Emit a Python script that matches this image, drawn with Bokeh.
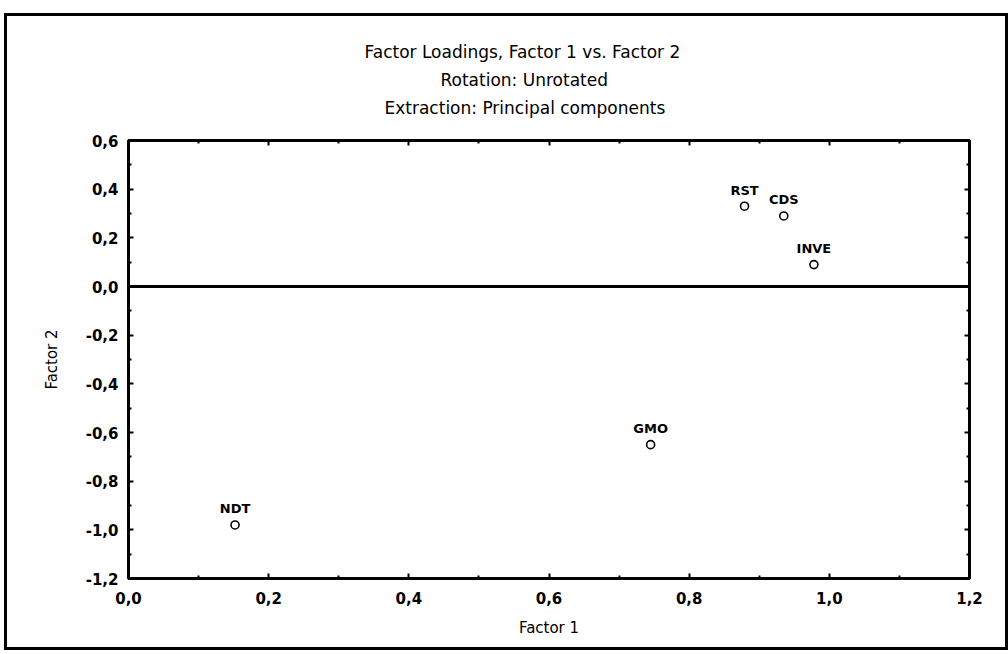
from bokeh.plotting import figure
from bokeh.models import (Range1d, FixedTicker, LinearAxis, Title, ColumnDataSource,
                          Span, LabelSet)
from bokeh.embed import file_html
from bokeh.resources import INLINE
from bokeh.core.properties import value

# ---- data ----
variables = ["RST", "CDS", "INVE", "GMO", "NDT"]
factor1 = [0.879, 0.935, 0.978, 0.745, 0.152]
factor2 = [0.33, 0.29, 0.09, -0.65, -0.98]

x_ticks = [0.0, 0.2, 0.4, 0.6, 0.8, 1.0, 1.2]
x_tick_labels = ["0,0", "0,2", "0,4", "0,6", "0,8", "1,0", "1,2"]
y_ticks = [-1.2, -1.0, -0.8, -0.6, -0.4, -0.2, 0.0, 0.2, 0.4, 0.6]
y_tick_labels = ["-1,2", "-1,0", "-0,8", "-0,6", "-0,4", "-0,2", "0,0", "0,2", "0,4", "0,6"]

title_lines = ["Factor Loadings, Factor 1 vs. Factor 2",
               "Rotation: Unrotated",
               "Extraction: Principal components"]
title_offsets = [236, 312, 256]
x_label = "Factor 1"
y_label = "Factor 2"

FONT = "DejaVu Sans"
W, H = 998, 631

p = figure(width=W, height=H, output_backend="svg", toolbar_location=None,
           x_range=Range1d(0.0, 1.2), y_range=Range1d(-1.2, 0.6),
           min_border_left=121, min_border_right=42, min_border_top=124,
           min_border_bottom=75)
p.styles = {"border": "3px solid black", "margin-top": "13px", "margin-left": "4px",
            "box-sizing": "content-box"}
p.background_fill_color = "white"
p.border_fill_color = "white"
p.grid.visible = False
p.outline_line_color = "black"
p.outline_line_width = 3

xminor = [a + (b - a) / 2 for a, b in zip(x_ticks[:-1], x_ticks[1:])]
yminor = [a + (b - a) / 2 for a, b in zip(y_ticks[:-1], y_ticks[1:])]

def style_axis(ax, ticks, minor, labels, show_labels=True):
    ax.ticker = FixedTicker(ticks=ticks, minor_ticks=minor)
    ax.major_label_overrides = {t: l for t, l in zip(ticks, labels)}
    ax.axis_line_color = None
    ax.major_tick_in = 5
    ax.major_tick_out = 0
    ax.minor_tick_in = 3
    ax.minor_tick_out = 0
    ax.major_tick_line_color = "black"
    ax.major_tick_line_width = 2
    ax.minor_tick_line_color = "black"
    ax.minor_tick_line_width = 2
    ax.major_label_text_font = FONT
    ax.major_label_text_font_size = "15px"
    ax.major_label_text_font_style = "bold"
    ax.major_label_text_color = "black"
    if not show_labels:
        ax.major_label_text_alpha = 0
        ax.major_label_text_font_size = "0px"
        ax.major_label_standoff = 0

style_axis(p.xaxis[0], x_ticks, xminor, x_tick_labels)
style_axis(p.yaxis[0], y_ticks, yminor, y_tick_labels)
p.xaxis[0].major_label_standoff = 13
p.yaxis[0].major_label_standoff = 10
p.xaxis[0].axis_label = x_label
p.yaxis[0].axis_label = y_label
for ax in (p.xaxis[0], p.yaxis[0]):
    ax.axis_label_text_font = FONT
    ax.axis_label_text_font_size = "15px"
    ax.axis_label_text_font_style = "normal"
    ax.axis_label_text_color = "black"
p.xaxis[0].axis_label_standoff = 12
p.yaxis[0].axis_label_standoff = 22

top_ax = LinearAxis()
style_axis(top_ax, x_ticks, xminor, x_tick_labels, show_labels=False)
p.add_layout(top_ax, "above")
right_ax = LinearAxis()
style_axis(right_ax, y_ticks, yminor, y_tick_labels, show_labels=False)
p.add_layout(right_ax, "right")

# blank spacer title between the frame and the title block
p.add_layout(Title(text=" ", text_font=FONT, text_font_size="12px", standoff=4), "above")

# titles: added from the frame outward (last line first)
for t, off in reversed(list(zip(title_lines, title_offsets))):
    p.add_layout(Title(text=t, align="left", offset=off, text_font=FONT,
                       text_font_size="17px", text_font_style="normal",
                       text_color="black", standoff=6), "above")

# zero line
p.add_layout(Span(location=0, dimension="width", line_color="black", line_width=3))

src = ColumnDataSource(dict(x=factor1, y=factor2, name=variables))
p.scatter("x", "y", source=src, size=8, marker="circle", fill_color="white",
          line_color="black", line_width=1.6)
p.add_layout(LabelSet(x="x", y="y", text="name", source=src, text_align="center",
                      text_baseline="middle", y_offset=16, text_font=value(FONT),
                      text_font_size="13px", text_font_style="bold", text_color="black"))

open("out.html", "w").write(file_html(p, INLINE))
